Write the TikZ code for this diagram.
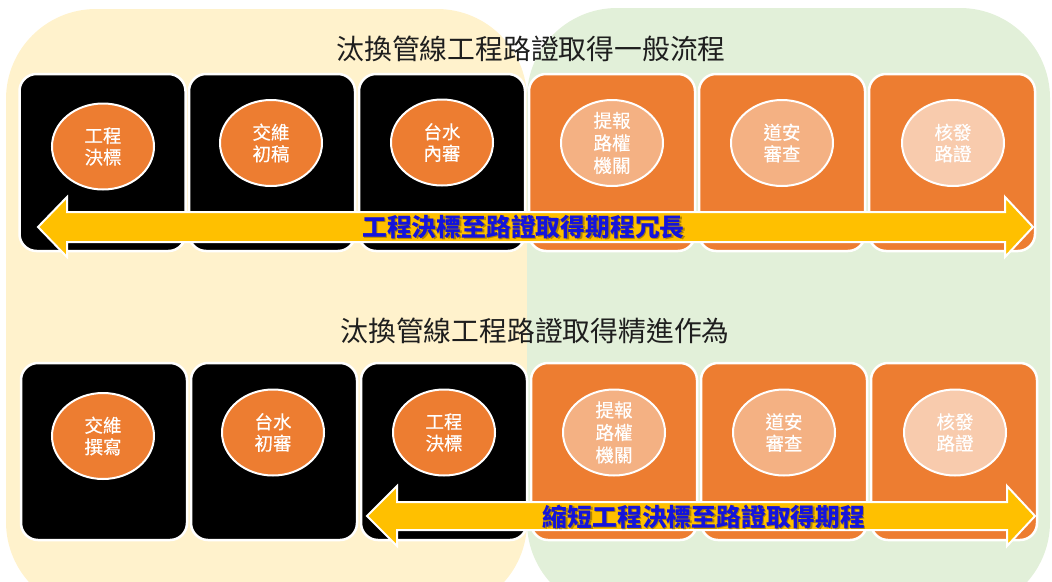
\documentclass[tikz,border=0pt]{standalone}
\usepackage{fontspec}
\newfontfamily\cjk{Noto Sans CJK TC}
\newfontfamily\cjkm[FakeBold=0.5]{Noto Sans CJK TC}
\usetikzlibrary{shapes.geometric}
\definecolor{yellowbg}{HTML}{FFF2CC}
\definecolor{greenbg}{HTML}{E2F0D9}
\definecolor{orangebox}{HTML}{ED7D31}
\definecolor{lightor}{HTML}{F4B183}
\definecolor{paleor}{HTML}{F8CBAD}
\definecolor{arrowfill}{HTML}{FFC000}
\definecolor{arrowtext}{RGB}{20,20,220}
\definecolor{titlecol}{HTML}{1E1E1E}
\tikzset{
  stepbox/.style={rectangle, rounded corners=17pt, draw=white, line width=2.5pt,
    minimum width=166pt, minimum height=177pt, inner sep=0pt},
  blackbox/.style={stepbox, fill=black},
  orbox/.style={stepbox, fill=orangebox},
  disc/.style={ellipse, draw=white, line width=2pt, minimum width=102pt,
    minimum height=86pt, inner sep=0pt},
  ctext/.style={text=white, align=center, inner sep=0pt,
    font=\cjkm\fontsize{18.5}{21.5}\selectfont},
  ctextb/.style={ctext, font=\cjkm\fontsize{18.5}{22.5}\selectfont},
  titletext/.style={text=titlecol, inner sep=0pt, font=\cjk\fontsize{27.8}{30}\selectfont},
  arrtext/.style={text=arrowtext, inner sep=0pt, font=\cjk\bfseries\fontsize{24.8}{26}\selectfont},
  arrshadow/.style={arrtext, text=black, opacity=0.3},
  bigarrow/.style={fill=arrowfill, draw=white, line width=2pt, line join=miter},
}
\begin{document}
\begin{tikzpicture}[x=1pt,y=-1pt]
\useasboundingbox (0,0) rectangle (1052,581);
\begin{scope}
\clip (0,0) rectangle (1052,581);
\fill[yellowbg, rounded corners=90pt] (6,9) rectangle (527,612);
\fill[greenbg, rounded corners=90pt] (527,8) rectangle (1050,612);
\end{scope}

% ---------- row 1 ----------
\node[titletext] (t1) at (531,49) {汰換管線工程路證取得一般流程};
\node[blackbox] (b11) at (102.5,162.5) {};
\node[blackbox] (b12) at (272,162.5) {};
\node[blackbox] (b13) at (442,162.5) {};
\node[orbox] (b14) at (612,162.5) {};
\node[orbox] (b15) at (782,162.5) {};
\node[orbox] (b16) at (952,162.5) {};

\node[disc, fill=orangebox] (c11) at (103,146.5) {};
\node[disc, fill=orangebox] (c12) at (271,143) {};
\node[disc, fill=orangebox] (c13) at (442,142.5) {};
\node[disc, fill=lightor] (c14) at (612,143) {};
\node[disc, fill=lightor] (c15) at (782,143) {};
\node[disc, fill=paleor] (c16) at (953,143) {};

\node[ctext] at (c11) {工程\\決標};
\node[ctext] at (c12) {交維\\初稿};
\node[ctext] at (c13) {台水\\內審};
\node[ctextb] at (c14) {提報\\路權\\機關};
\node[ctext] at (c15) {道安\\審查};
\node[ctext] at (c16) {核發\\路證};

\coordinate (a1l) at (38,227);
\coordinate (a1r) at (1033,227);
\draw[bigarrow] (a1l) -- (67,197) -- (67,212) -- (1005,212) -- (1005,197) -- (a1r)
  -- (1005,257) -- (1005,242) -- (67,242) -- (67,257) -- cycle;
\node[arrshadow] at (525,228.2) {工程決標至路證取得期程冗長};
\node[arrtext] (l1) at (523.5,227) {工程決標至路證取得期程冗長};

% ---------- row 2 ----------
\node[titletext] (t2) at (535,331) {汰換管線工程路證取得精進作為};
\node[blackbox] (b21) at (104,451.5) {};
\node[blackbox] (b22) at (274,451.5) {};
\node[blackbox] (b23) at (444,451.5) {};
\node[orbox] (b24) at (614,451.5) {};
\node[orbox] (b25) at (784,451.5) {};
\node[orbox] (b26) at (954,451.5) {};

\node[disc, fill=orangebox] (c21) at (103,436) {};
\node[disc, fill=orangebox] (c22) at (273,432.5) {};
\node[disc, fill=orangebox] (c23) at (444,432.5) {};
\node[disc, fill=lightor] (c24) at (614,432.5) {};
\node[disc, fill=lightor] (c25) at (784,432.5) {};
\node[disc, fill=paleor] (c26) at (955,432.5) {};

\node[ctext] at (c21) {交維\\撰寫};
\node[ctext] at (c22) {台水\\初審};
\node[ctext] at (c23) {工程\\決標};
\node[ctextb] at (c24) {提報\\路權\\機關};
\node[ctext] at (c25) {道安\\審查};
\node[ctext] at (c26) {核發\\路證};

\coordinate (a2l) at (367,516);
\coordinate (a2r) at (1035,516);
\draw[bigarrow] (a2l) -- (397,486) -- (397,502) -- (1007,502) -- (1007,486) -- (a2r)
  -- (1007,546) -- (1007,530) -- (397,530) -- (397,546) -- cycle;
\node[arrshadow] at (705.5,518.2) {縮短工程決標至路證取得期程};
\node[arrtext] (l2) at (704,517) {縮短工程決標至路證取得期程};
\end{tikzpicture}
\end{document}
